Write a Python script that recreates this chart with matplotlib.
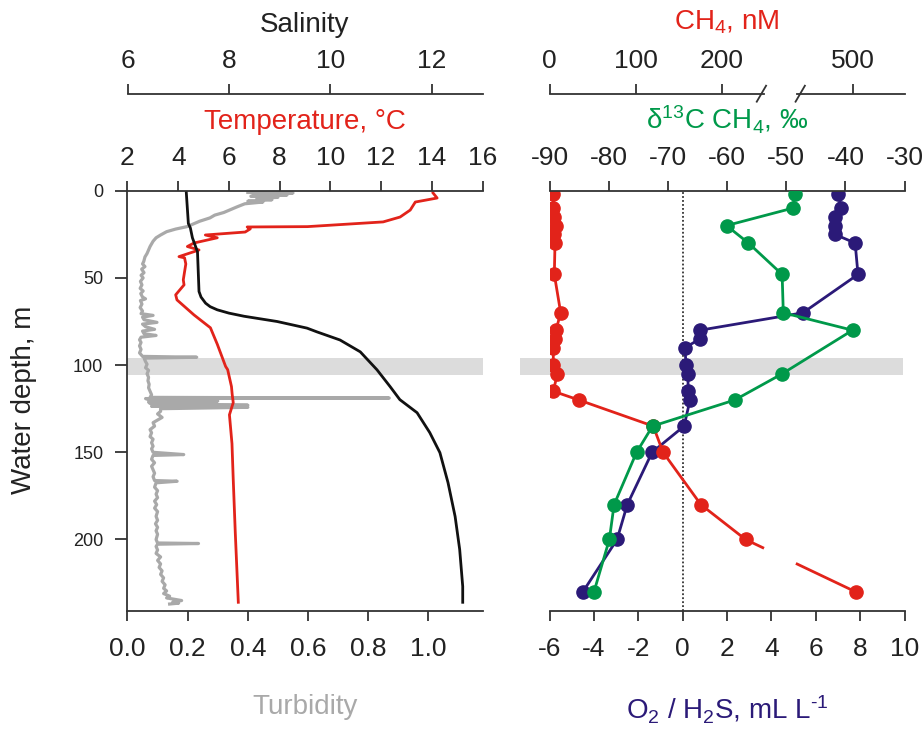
import numpy as np
import matplotlib
matplotlib.use('Agg')
import matplotlib.pyplot as plt
from matplotlib import transforms
from matplotlib.ticker import FixedLocator, FormatStrFormatter

plt.rcParams['font.family'] = ['Liberation Sans', 'DejaVu Sans']
plt.rcParams['mathtext.fontset'] = 'custom'
plt.rcParams['mathtext.rm'] = 'Liberation Sans'
plt.rcParams['mathtext.it'] = 'Liberation Sans:italic'
plt.rcParams['mathtext.default'] = 'regular'
plt.rcParams['axes.unicode_minus'] = False

# ---- CTD profiles (left panel) ----
turb_depth = [1.0, 1.3, 2.0, 2.5, 3.2, 3.8, 4.5, 5.2, 6.0, 6.5, 7.5, 9.2, 11, 12.5, 14, 15.6,
              17.5, 19, 20.6, 22, 23.5, 25.4, 27, 29, 32, 34, 36, 38, 40.6, 42, 43.5, 45, 47,
              48.5, 50, 52, 54, 56, 57.5, 59, 61, 62, 63, 65, 67, 69, 70.5, 71.5, 72.5, 74,
              75.5, 76.5, 78, 79.5, 80.5, 82, 83, 84, 85.5, 87, 89, 91, 93, 95, 95.5, 96, 98,
              99.5, 101.5, 103, 105, 107, 109, 111, 113, 115, 117, 118.5, 118.9, 119.2, 120,
              120.6, 121.2, 122, 123, 123.6, 124.2, 125, 126.5, 128, 130, 131, 133, 135, 137,
              138.8, 141, 142.5, 144.5, 146.5, 148, 150, 151.3, 151.8, 154, 156, 158, 160, 162,
              164, 166.2, 166.6, 167.5, 170, 172, 174, 176, 178, 180, 182, 184, 186.7, 189, 191,
              193, 195, 197, 200, 202, 202.3, 202.7, 204, 206, 208, 210, 212, 214, 216, 218,
              220, 222, 224, 226, 228, 229.5, 231, 232.5, 233.5, 235, 236, 236.5, 237]
turbidity = [0.40, 0.55, 0.42, 0.53, 0.41, 0.50, 0.43, 0.48, 0.40, 0.45, 0.39, 0.365, 0.34,
             0.32, 0.29, 0.274, 0.24, 0.22, 0.198, 0.16, 0.13, 0.11, 0.095, 0.085, 0.075, 0.07,
             0.065, 0.058, 0.054, 0.05, 0.058, 0.047, 0.055, 0.045, 0.052, 0.043, 0.048, 0.042,
             0.052, 0.044, 0.05, 0.06, 0.043, 0.048, 0.042, 0.05, 0.045, 0.085, 0.05, 0.055,
             0.098, 0.05, 0.06, 0.09, 0.05, 0.055, 0.095, 0.045, 0.04, 0.045, 0.04, 0.045, 0.04,
             0.05, 0.23, 0.055, 0.06, 0.065, 0.06, 0.07, 0.065, 0.07, 0.068, 0.072, 0.07, 0.075,
             0.08, 0.075, 0.87, 0.06, 0.08, 0.30, 0.07, 0.075, 0.40, 0.08, 0.40, 0.11, 0.11,
             0.10, 0.115, 0.105, 0.085, 0.09, 0.075, 0.08, 0.075, 0.085, 0.08, 0.085, 0.08,
             0.085, 0.187, 0.085, 0.08, 0.09, 0.08, 0.085, 0.09, 0.085, 0.09, 0.165, 0.095,
             0.09, 0.10, 0.095, 0.10, 0.09, 0.097, 0.09, 0.10, 0.095, 0.10, 0.093, 0.10, 0.095,
             0.10, 0.095, 0.10, 0.236, 0.10, 0.095, 0.10, 0.095, 0.11, 0.10, 0.11, 0.105, 0.115,
             0.11, 0.12, 0.115, 0.125, 0.12, 0.13, 0.12, 0.14, 0.13, 0.18, 0.15, 0.17, 0.14]

temp_depth = [1.3, 4.2, 6.5, 11.1, 15.1, 17.9, 20.6, 20.8, 21.9, 23.7, 25.4, 27.0, 30.0, 32.0,
              34.0, 37.8, 38.5, 42.0, 51.1, 54.0, 59.7, 62.6, 71.2, 78.6, 88.0, 100.8, 102.6,
              112.3, 117.0, 121.5, 128.5, 145, 165.6, 195.9, 236.0]
temperature = [14.05, 14.21, 13.35, 13.15, 12.75, 12.08, 9.1, 6.72, 6.84, 6.64, 5.07, 5.54,
               4.62, 4.36, 4.82, 4.03, 4.25, 4.30, 4.20, 4.23, 3.90, 3.95, 4.62, 5.27, 5.54,
               5.87, 5.95, 6.10, 6.13, 6.17, 6.02, 6.12, 6.17, 6.25, 6.37]

sal_depth = [1.3, 18.8, 21.4, 27.0, 35.0, 57.8, 61, 64.5, 66.5, 68.3, 70.2, 72.0, 75.0, 78.8,
             81.0, 85.6, 92.4, 102.7, 112.4, 119.8, 127.3, 138.7, 150.2, 167.4, 186.8, 205.7,
             226.9, 236.0]
salinity = [7.16, 7.20, 7.24, 7.28, 7.38, 7.41, 7.45, 7.54, 7.63, 7.77, 8.00, 8.30, 8.95, 9.54,
            9.74, 10.19, 10.59, 10.92, 11.18, 11.37, 11.71, 11.96, 12.16, 12.32, 12.46, 12.55,
            12.61, 12.61]

# ---- bottle samples (right panel) ----
o2_depth = [2, 10, 15, 20, 25, 30, 48, 70, 80, 85, 90, 100, 105, 115, 120, 135, 150, 180, 200, 230]
o2_h2s = [7.02, 7.14, 6.87, 6.87, 6.85, 7.77, 7.90, 5.42, 0.78, 0.78, 0.10, 0.15, 0.24, 0.24,
          0.33, 0.06, -1.38, -2.50, -2.96, -4.50]

d13c_depth = [2, 10, 20, 30, 48, 70, 80, 105, 120, 135, 150, 180, 200, 230]
d13c = [-48.5, -48.9, -60.1, -56.4, -50.7, -50.5, -38.8, -50.7, -58.7, -72.6, -75.3, -79.1,
        -79.9, -82.5]

ch4_depth = [2, 10, 15, 20, 25, 30, 48, 70, 80, 85, 90, 100, 105, 115, 120, 135, 150, 180, 200, 230]
ch4 = [4.3, 4.3, 5.5, 7.4, 5.5, 6.3, 5.5, 12.9, 7.4, 6.3, 4.3, 4.3, 9.0, 4.3, 34, 120.6, 132,
       176, 228, 503]

band_depth = (96, 105.7)

RED = '#e2231a'
GREEN = '#00994a'
NAVY = '#2b1a78'
GRAY = '#a9a9a9'
BAND = '#dcdcdc'
AXC = '#333333'

# broken CH4 axis: 250..435 nM squeezed into a short gap
BRK_LO, BRK_HI, GAP = 250.0, 435.0, 38.0


def ch4_fwd(c):
    c = np.asarray(c, float)
    return np.where(c <= BRK_LO, c,
                    np.where(c <= BRK_HI, BRK_LO + (c - BRK_LO) * GAP / (BRK_HI - BRK_LO),
                             BRK_LO + GAP + (c - BRK_HI)))


def ch4_inv(u):
    u = np.asarray(u, float)
    return np.where(u <= BRK_LO, u,
                    np.where(u <= BRK_LO + GAP, BRK_LO + (u - BRK_LO) * (BRK_HI - BRK_LO) / GAP,
                             BRK_HI + (u - BRK_LO - GAP)))


TICK_FS = 19
LAB_FS = 20
OUT_PT = 97 * 72 / 100.0   # second top axis offset (97 px)


def only_spine(ax, side, outward=0):
    for s in ['top', 'bottom', 'left', 'right']:
        ax.spines[s].set_visible(s == side)
    ax.spines[side].set_linewidth(1.3)
    ax.spines[side].set_color(AXC)
    if outward:
        ax.spines[side].set_position(('outward', outward))
    ax.tick_params(axis='x', direction='out', length=7, width=1.3, color=AXC,
                   labelsize=TICK_FS, pad=8, labelcolor='#222222')


fig = plt.figure(figsize=(9.23, 7.3), dpi=100)
ax_l = fig.add_axes([127.5 / 923, 119 / 730, 355 / 923, 420.3 / 730])
ax_r = fig.add_axes([549.6 / 923, 119 / 730, 355 / 923, 420.3 / 730], sharey=ax_l)

# ---------- left panel ----------
ax_l.axhspan(*band_depth, color=BAND, lw=0, zorder=0)
ax_l.plot(turbidity, turb_depth, color=GRAY, lw=2.3)
ax_l.set_xlim(0, 1.18)
ax_l.set_ylim(241, 0)
only_spine(ax_l, 'bottom')
ax_l.spines['left'].set_visible(True)
ax_l.spines['left'].set_linewidth(1.3)
ax_l.spines['left'].set_color(AXC)
ax_l.xaxis.set_major_locator(FixedLocator([0, 0.2, 0.4, 0.6, 0.8, 1.0]))
ax_l.xaxis.set_major_formatter(FormatStrFormatter('%.1f'))
ax_l.tick_params(axis='x', pad=12)
ax_l.yaxis.set_major_locator(FixedLocator([0, 50, 100, 150, 200]))
ax_l.tick_params(axis='y', direction='out', length=8.4, width=1.3, color=AXC,
                 labelsize=13, pad=9, labelcolor='#222222')
ax_l.set_xlabel('Turbidity', fontsize=LAB_FS, color=GRAY)
ax_l.xaxis.set_label_coords(0.5, -0.228)
ax_l.xaxis.label.set_va('center')
ax_l.set_ylabel('Water depth, m', fontsize=LAB_FS, color='#222222')
ax_l.yaxis.set_label_coords(-0.2915, 0.502)
ax_l.yaxis.label.set_va('center')

ax_t = ax_l.twiny()
ax_t.plot(temperature, temp_depth, color=RED, lw=2.0)
ax_t.set_xlim(2, 16)
only_spine(ax_t, 'top')
ax_t.xaxis.set_major_locator(FixedLocator(np.arange(2, 17, 2)))
ax_t.set_xlabel('Temperature, °C', fontsize=LAB_FS, color=RED)
ax_t.xaxis.set_label_coords(0.5, 1.163)
ax_t.xaxis.label.set_va('center')

ax_s = ax_l.twiny()
ax_s.plot(salinity, sal_depth, color='#111111', lw=2.0)
ax_s.set_xlim(6, 13)
only_spine(ax_s, 'top', OUT_PT)
ax_s.xaxis.set_major_locator(FixedLocator([6, 8, 10, 12]))
ax_s.set_xlabel('Salinity', fontsize=LAB_FS, color='#222222')
ax_s.xaxis.set_label_coords(0.5, 1.394)
ax_s.xaxis.label.set_va('center')

# ---------- right panel ----------
ax_r.axhspan(*band_depth, xmin=-0.084, xmax=0.995, color=BAND, lw=0, zorder=0, clip_on=False)
ax_r.axvline(0, color=AXC, ls=(0, (1, 1.2)), lw=1.3, zorder=1)
ax_r.plot(o2_h2s, o2_depth, '-o', color=NAVY, lw=2.0, ms=9.5, zorder=3)
ax_r.set_xlim(-6, 10)
only_spine(ax_r, 'bottom')
ax_r.tick_params(axis='x', pad=12)
ax_r.tick_params(axis='y', left=False, labelleft=False)
ax_r.xaxis.set_major_locator(FixedLocator(np.arange(-6, 11, 2)))
ax_r.set_xlabel('O$_2$ / H$_2$S, mL L$^{\u20101}$', fontsize=LAB_FS, color=NAVY)
ax_r.xaxis.set_label_coords(0.5, -0.236)
ax_r.xaxis.label.set_va('center')

ax_c = ax_r.twiny()
ax_c.set_xscale('function', functions=(ch4_fwd, ch4_inv))
ax_c.set_xlim(0, 560)
ax_c.plot(ch4, ch4_depth, 'o', color=RED, ms=9.5, zorder=3)
ax_c.plot(ch4[:-1], ch4_depth[:-1], '-', color=RED, lw=2.0, zorder=2)
# last segment crosses the axis break: split it at the gap edges
u0, u1 = ch4_fwd(ch4[-2]), ch4_fwd(ch4[-1])
d0, d1 = ch4_depth[-2], ch4_depth[-1]
d_lo = d0 + (BRK_LO - 2 - u0) / (u1 - u0) * (d1 - d0)
d_hi = d0 + (BRK_LO + GAP - u0) / (u1 - u0) * (d1 - d0)
ax_c.plot([ch4[-2], BRK_LO - 2], [d0, d_lo], '-', color=RED, lw=2.0)
ax_c.plot([BRK_HI, ch4[-1]], [d_hi, d1], '-', color=RED, lw=2.0)
only_spine(ax_c, 'top', OUT_PT)
ax_c.spines['top'].set_bounds(0, BRK_LO)
ax_c.xaxis.set_major_locator(FixedLocator([0, 100, 200]))
ax_c.xaxis.set_minor_locator(FixedLocator([]))
ax_c.xaxis.set_major_formatter(FormatStrFormatter('%d'))
ax_c.set_xlabel('CH$_4$, nM', fontsize=LAB_FS, color=RED)
ax_c.xaxis.set_label_coords(0.5, 1.401)
ax_c.xaxis.label.set_va('center')

ax_c2 = ax_r.twiny()
ax_c2.set_xscale('function', functions=(ch4_fwd, ch4_inv))
ax_c2.set_xlim(0, 560)
only_spine(ax_c2, 'top', OUT_PT)
ax_c2.spines['top'].set_bounds(BRK_HI, 560)
ax_c2.xaxis.set_major_locator(FixedLocator([500]))
ax_c2.xaxis.set_minor_locator(FixedLocator([]))
ax_c2.xaxis.set_major_formatter(FormatStrFormatter('%d'))

# break marks on the CH4 axis
brk_tr = transforms.blended_transform_factory(
    ax_c.transData, transforms.offset_copy(ax_r.transAxes, fig=fig, x=0, y=97, units='dots'))
for xb in (BRK_LO, BRK_HI):
    ax_c.plot([xb - 9, xb + 9], [1 - 0.019, 1 + 0.019], color=AXC, lw=1.3,
              transform=brk_tr, clip_on=False)

ax_d = ax_r.twiny()
ax_d.plot(d13c, d13c_depth, '-o', color=GREEN, lw=2.0, ms=9.5, zorder=3)
ax_d.set_xlim(-90, -30)
only_spine(ax_d, 'top')
ax_d.xaxis.set_major_locator(FixedLocator(np.arange(-90, -29, 10)))
ax_d.set_xlabel('δ$^{13}$C CH$_4$, ‰', fontsize=LAB_FS, color=GREEN)
ax_d.xaxis.set_label_coords(0.5, 1.168)
ax_d.xaxis.label.set_va('center')

fig.savefig('out.png', dpi=100, facecolor='white')
